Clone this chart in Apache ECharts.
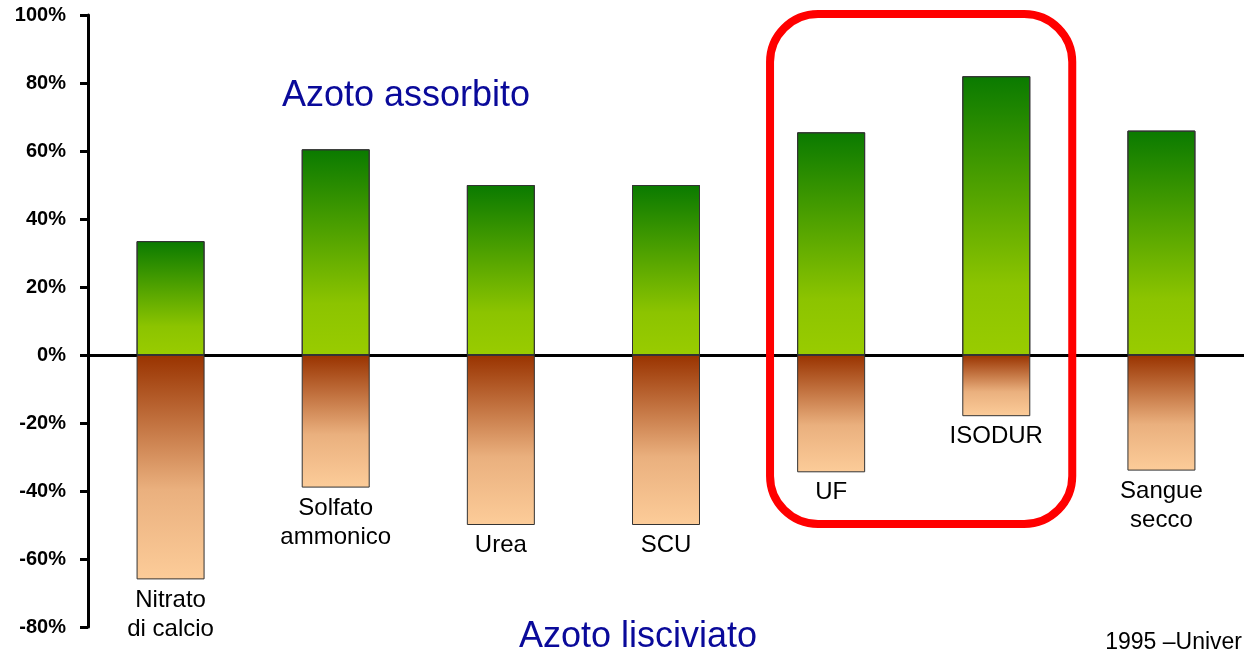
<!DOCTYPE html>
<html>
<head>
<meta charset="utf-8">
<script src="https://cdn.jsdelivr.net/npm/echarts@6/dist/echarts.min.js"></script>
<style>
  html, body { margin: 0; padding: 0; background: #fff; }
  #chart { width: 1244px; height: 651px; }
</style>
</head>
<body>
<div id="chart"></div>
<script>
// concimi azotati: quota assorbita (+) e lisciviata (-)
const categories = ['Nitrato\ndi calcio', 'Solfato\nammonico', 'Urea', 'SCU', 'UF', 'ISODUR', 'Sangue\nsecco'];
const assorbito = [33.5, 60.5, 50, 50, 65.5, 82, 66];
const lisciviato = [-66, -39, -50, -50, -34.5, -18, -34];
const yTicks = [-80, -60, -40, -20, 0, 20, 40, 60, 80, 100];

const chart = echarts.init(document.getElementById('chart'));
const font = 'Arial, "Liberation Sans", sans-serif';

const greenGrad = new echarts.graphic.LinearGradient(0, 0, 0, 1, [
  { offset: 0, color: '#0a7a00' },
  { offset: 0.75, color: '#8cc400' },
  { offset: 1, color: '#99cc00' }
]);
const brownGrad = new echarts.graphic.LinearGradient(0, 0, 0, 1, [
  { offset: 0, color: '#993300' },
  { offset: 0.6, color: '#eab07e' },
  { offset: 1, color: '#fccc99' }
]);

let option = {
  animation: false,
  backgroundColor: '#fff',
  title: [
    {
      text: 'Azoto assorbito',
      left: 277, top: 73,
      textStyle: { fontFamily: font, fontSize: 36, fontWeight: 'normal', color: '#0a0a9a' }
    },
    {
      text: 'Azoto lisciviato',
      left: 514, top: 614,
      textStyle: { fontFamily: font, fontSize: 36, fontWeight: 'normal', color: '#0a0a9a' }
    },
    {
      text: '1995 \u2013Univer',
      right: -3, top: 626,
      textStyle: { fontFamily: font, fontSize: 23, fontWeight: 'normal', color: '#000' }
    }
  ],
  grid: { left: 88, right: 0, top: 15, bottom: 24, containLabel: false },
  xAxis: {
    type: 'category',
    data: categories,
    axisLine: { onZero: true, lineStyle: { color: '#000', width: 3 } },
    axisTick: { show: false },
    axisLabel: { show: false },
    splitLine: { show: false }
  },
  yAxis: {
    type: 'value',
    min: -80, max: 100, interval: 20,
    axisLine: { show: true, lineStyle: { color: '#000', width: 3 } },
    axisTick: { show: true, length: 8, lineStyle: { color: '#000', width: 3 } },
    splitLine: { show: false },
    axisLabel: {
      margin: 22,
      fontFamily: font, fontSize: 20, fontWeight: 'bold', color: '#000',
      formatter: v => yTicks.includes(v) ? v + '%' : ''
    }
  },
  series: [
    {
      name: 'Azoto assorbito',
      type: 'bar',
      data: assorbito,
      barWidth: 68,
      barGap: '-100%',
      itemStyle: { color: greenGrad, borderColor: '#333', borderWidth: 1 }
    },
    {
      name: 'Azoto lisciviato',
      type: 'bar',
      data: lisciviato,
      barWidth: 68,
      barGap: '-100%',
      itemStyle: { color: brownGrad, borderColor: '#333', borderWidth: 1 },
      label: {
        show: true,
        position: 'bottom',
        distance: 6,
        fontFamily: font, fontSize: 24, lineHeight: 29, color: '#000',
        formatter: p => categories[p.dataIndex]
      }
    }
  ]
};
chart.setOption(option);

// riquadro rosso attorno a UF e ISODUR
const band = chart.convertToPixel({ xAxisIndex: 0 }, 1) - chart.convertToPixel({ xAxisIndex: 0 }, 0);
const xUF = chart.convertToPixel({ xAxisIndex: 0 }, 4);
const xIso = chart.convertToPixel({ xAxisIndex: 0 }, 5);
const yTop = chart.convertToPixel({ yAxisIndex: 0 }, 100);
const boxLeft = xUF - band * 0.37;
const boxRight = xIso + band * 0.46;
chart.setOption({
  graphic: [{
    type: 'rect',
    shape: { x: boxLeft, y: yTop - 1, width: boxRight - boxLeft, height: 510, r: 48 },
    style: { fill: 'none', stroke: '#ff0000', lineWidth: 8 },
    z: 100
  }]
});
</script>
</body>
</html>
